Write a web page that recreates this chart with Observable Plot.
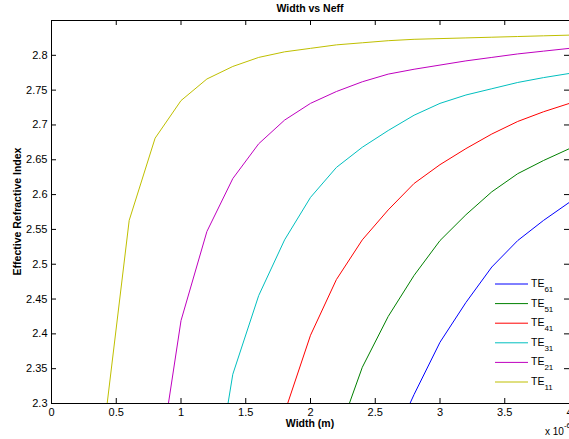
<!DOCTYPE html>
<html><head><meta charset="utf-8">
<script src="https://cdn.jsdelivr.net/npm/d3@7"></script>
<script src="https://cdn.jsdelivr.net/npm/@observablehq/plot@0.6"></script>
<style>
body{margin:0;background:#fff;}
#chart{position:relative;width:569px;height:439px;overflow:hidden;}
</style>
</head><body><div id="chart"></div>
<script>
// Widths in units of 1e-6 m (axis multiplier "x 10^-6")
const modes = ["TE61","TE51","TE41","TE31","TE21","TE11"];
const colors = ["#0000ff","#008000","#ff0000","#00bfbf","#bf00bf","#bfbf00"];

const widthTE61 = [2.6,2.8,3.0,3.2,3.4,3.6,3.8,4.0];
const neffTE61  = [2.232,2.313,2.388,2.445,2.496,2.534,2.563,2.589];
const widthTE51 = [2.2,2.4,2.6,2.8,3.0,3.2,3.4,3.6,3.8,4.0];
const neffTE51  = [2.248,2.352,2.425,2.484,2.534,2.571,2.604,2.630,2.649,2.666];
const widthTE41 = [1.8,2.0,2.2,2.4,2.6,2.8,3.0,3.2,3.4,3.6,3.8,4.0];
const neffTE41  = [2.287,2.398,2.478,2.535,2.578,2.616,2.643,2.666,2.687,2.705,2.719,2.731];
const widthTE31 = [1.2,1.4,1.6,1.8,2.0,2.2,2.4,2.6,2.8,3.0,3.2,3.4,3.6,3.8,4.0];
const neffTE31  = [2.115,2.342,2.455,2.535,2.596,2.639,2.668,2.692,2.714,2.731,2.743,2.752,2.761,2.768,2.774];
const widthTE21 = [0.8,1.0,1.2,1.4,1.6,1.8,2.0,2.2,2.4,2.6,2.8,3.0,3.2,3.4,3.6,3.8,4.0];
const neffTE21  = [2.174,2.419,2.547,2.623,2.673,2.707,2.731,2.748,2.762,2.773,2.780,2.786,2.792,2.797,2.802,2.806,2.810];
const widthTE11 = [0.4,0.6,0.8,1.0,1.2,1.4,1.6,1.8,2.0,2.2,2.4,2.6,2.8,3.0,3.2,3.4,3.6,3.8,4.0];
const neffTE11  = [2.254,2.563,2.681,2.735,2.766,2.784,2.797,2.805,2.810,2.815,2.818,2.821,2.823,2.824,2.825,2.826,2.827,2.828,2.829];

const xTicks = [0,0.5,1,1.5,2,2.5,3,3.5,4];
const yTicks = [2.3,2.35,2.4,2.45,2.5,2.55,2.6,2.65,2.7,2.75,2.8];

const titleText = "Width vs Neff";
const xLabel = "Width (m)";
const yLabel = "Effective Refractive Index";

const seriesData = {
  TE61: [widthTE61, neffTE61], TE51: [widthTE51, neffTE51], TE41: [widthTE41, neffTE41],
  TE31: [widthTE31, neffTE31], TE21: [widthTE21, neffTE21], TE11: [widthTE11, neffTE11]
};
const rows = modes.flatMap(m => seriesData[m][0].map((w, i) => ({mode: m, w, n: seriesData[m][1][i]})));

const W = 569, H = 439, mL = 51, mR = 0, mT = 20, mB = 36;
const innerW = W - mL - mR, innerH = H - mT - mB, tk = 5;

const chart = Plot.plot({
  width: W, height: H,
  marginLeft: mL, marginRight: mR, marginTop: mT, marginBottom: mB,
  style: {fontFamily: "'Liberation Sans', Arial, sans-serif", fontSize: "11px", color: "#000", background: "#fff"},
  x: {domain: [0, 4]},
  y: {domain: [2.3, 2.85]},
  color: {domain: modes, range: colors},
  marks: [
    Plot.line(rows, {x: "w", y: "n", z: "mode", stroke: "mode", strokeWidth: 1, clip: true}),
    Plot.axisX({ticks: xTicks, tickSize: 0, tickPadding: 5, tickFormat: d => String(d), label: null}),
    Plot.axisY({ticks: yTicks, tickSize: 0, tickPadding: 4, tickFormat: d => String(+d.toFixed(2)), label: null}),
    Plot.tickX(xTicks, {x: d => d, insetBottom: innerH - tk, stroke: "#000"}),
    Plot.tickX(xTicks, {x: d => d, insetTop: innerH - tk, stroke: "#000"}),
    Plot.tickY(yTicks, {y: d => d, insetRight: innerW - tk, stroke: "#000"}),
    Plot.tickY(yTicks, {y: d => d, insetLeft: innerW - tk, stroke: "#000"}),
    Plot.frame({stroke: "#000"})
  ]
});
document.getElementById("chart").appendChild(chart);

const svg = d3.select(chart);
const font = "'Liberation Sans', Arial, sans-serif";
const cx = mL + innerW / 2, cy = mT + innerH / 2;

svg.append("text").attr("x", cx).attr("y", 12).attr("text-anchor", "middle")
  .attr("font-family", font).attr("font-size", 10.5).attr("font-weight", "bold").attr("fill", "#000").text(titleText);
svg.append("text").attr("x", cx).attr("y", 427).attr("text-anchor", "middle")
  .attr("font-family", font).attr("font-size", 10.5).attr("font-weight", "bold").attr("fill", "#000").text(xLabel);
svg.append("text").attr("transform", `translate(21,${cy}) rotate(-90)`).attr("text-anchor", "middle")
  .attr("font-family", font).attr("font-size", 10.5).attr("font-weight", "bold").attr("fill", "#000").text(yLabel);

const ex = svg.append("text").attr("x", 545).attr("y", 435).attr("text-anchor", "start")
  .attr("font-family", font).attr("font-size", 10).attr("fill", "#000");
ex.append("tspan").text("x 10");
ex.append("tspan").attr("dy", -7).attr("font-size", 8).text("-6");

// Legend (no box), inside bottom-right
const color = chart.scale("color");
const lg = svg.append("g");
modes.forEach((m, i) => {
  const y = 284 + i * 19.6;
  lg.append("line").attr("x1", 495).attr("x2", 528).attr("y1", y).attr("y2", y)
    .attr("stroke", color.apply(m)).attr("stroke-width", 1);
  const t = lg.append("text").attr("x", 531).attr("y", y + 3).attr("text-anchor", "start")
    .attr("font-family", font).attr("font-size", 10.5).attr("fill", "#000");
  t.append("tspan").text(m.slice(0, 2));
  t.append("tspan").attr("dy", 5).attr("font-size", 8).text(m.slice(2));
});
</script>
</body></html>
